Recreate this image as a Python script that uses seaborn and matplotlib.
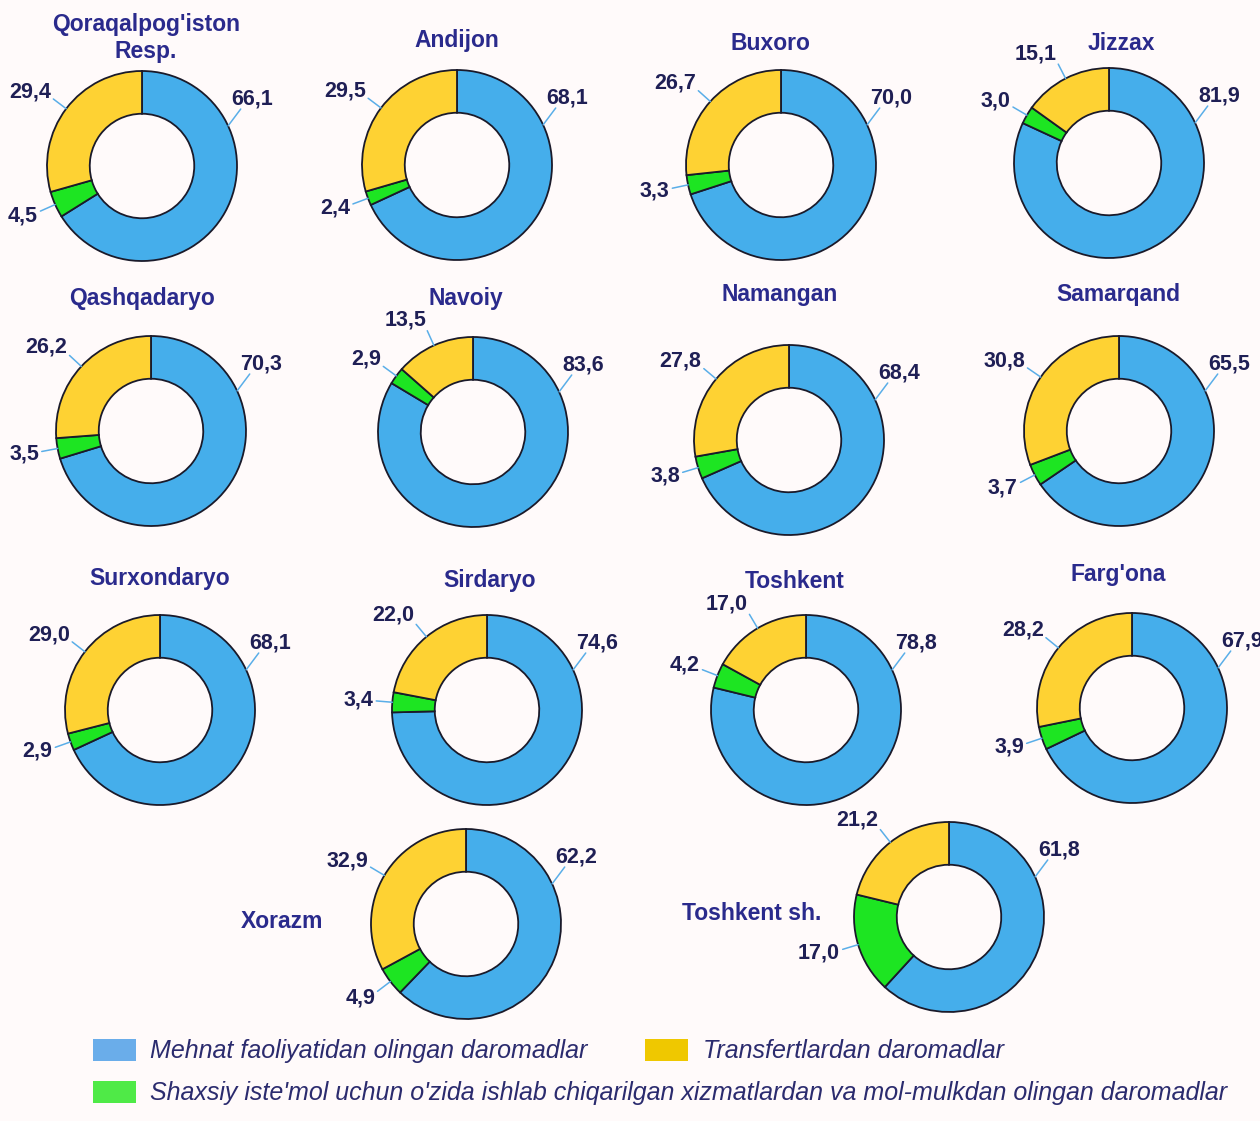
import numpy as np
import matplotlib
matplotlib.use("Agg")
import matplotlib.pyplot as plt
from matplotlib.patches import Patch
import seaborn as sns

# Region names and income shares (%)
regions = ["Qoraqalpog'iston\nResp.", "Andijon", "Buxoro", "Jizzax",
           "Qashqadaryo", "Navoiy", "Namangan", "Samarqand",
           "Surxondaryo", "Sirdaryo", "Toshkent", "Farg'ona",
           "Xorazm", "Toshkent sh."]
mehnat = [66.1, 68.1, 70.0, 81.9, 70.3, 83.6, 68.4, 65.5, 68.1, 74.6, 78.8, 67.9, 62.2, 61.8]
shaxsiy = [4.5, 2.4, 3.3, 3.0, 3.5, 2.9, 3.8, 3.7, 2.9, 3.4, 4.2, 3.9, 4.9, 17.0]
transfert = [29.4, 29.5, 26.7, 15.1, 26.2, 13.5, 27.8, 30.8, 29.0, 22.0, 17.0, 28.2, 32.9, 21.2]

legend_labels = ["Mehnat faoliyatidan olingan daromadlar",
                 "Transfertlardan daromadlar",
                 "Shaxsiy iste'mol uchun o'zida ishlab chiqarilgan xizmatlardan va mol-mulkdan olingan daromadlar"]

# layout in pixels: donut centre and title position
W, H = 1260, 1121
R = 95
centres = [(142, 166), (457, 165), (781, 165), (1109, 163),
           (151, 431), (473, 432), (789, 440), (1119, 431),
           (160, 710), (487, 710), (806, 710), (1132, 708),
           (466, 924), (949, 917)]
titles = [(146, 38), (457, 41), (770, 43), (1121, 43),
          (142, 299), (466, 299), (780, 294), (1118, 294),
          (160, 579), (490, 581), (795, 581), (1118, 574),
          (282, 922), (752, 914)]

sns.set_theme(style="white")
plt.rcParams['font.family'] = ['Liberation Sans', 'DejaVu Sans']

ring_colors = ["#45AEEB", "#1DE522", "#FED233"]
legend_colors = ["#6AADEA", "#EFC800", "#4FEA47"]
title_color = "#2A2A8C"
label_color = "#1F1F55"
line_color = "#5AAEE8"
bg = "#FFFAFA"

fig = plt.figure(figsize=(W / 100, H / 100), dpi=100, facecolor=bg)

lim = 1.7
S = 2 * lim * R
for i, name in enumerate(regions):
    cx, cy = centres[i]
    ax = fig.add_axes([(cx - S / 2) / W, 1 - (cy + S / 2) / H, S / W, S / H])
    vals = [mehnat[i], shaxsiy[i], transfert[i]]
    wedges, _ = ax.pie(vals, colors=ring_colors, startangle=90, counterclock=False,
                       radius=1, wedgeprops=dict(width=0.45, edgecolor="#1a1a2a", linewidth=1.3))
    ax.set_xlim(-lim, lim)
    ax.set_ylim(-lim, lim)
    ax.axis('off')

    for k, (w, v) in enumerate(zip(wedges, vals)):
        txt = f"{v:.1f}".replace('.', ',')
        if k == 0:
            # labour income label sits at the upper right
            a1, a2 = np.deg2rad(25), np.deg2rad(30)
            ax.plot([np.cos(a1), 1.2 * np.cos(a2)], [np.sin(a1), 1.2 * np.sin(a2)],
                    color=line_color, lw=1.1, clip_on=False)
            ax.text(1.16, 0.71, txt, ha='center', va='center', fontsize=15.5,
                    fontweight='bold', color=label_color)
            continue
        a = np.deg2rad((w.theta1 + w.theta2) / 2)
        c, s = np.cos(a), np.sin(a)
        ax.plot([c, 1.17 * c], [s, 1.17 * s], color=line_color, lw=1.1, clip_on=False)
        ha = 'right' if c < -0.1 else ('left' if c > 0.1 else 'center')
        ax.annotate(txt, xy=(1.2 * c, 1.2 * s), xytext=(0, 9 * s), textcoords='offset pixels',
                    ha=ha, va='center', fontsize=15.5, fontweight='bold', color=label_color)

    tx, ty = titles[i]
    fig.text(tx / W, 1 - ty / H, name, ha='center', va='center', fontsize=16.5,
             fontweight='bold', color=title_color, linespacing=1.2)

# legend
hs = [Patch(facecolor=c, edgecolor='none') for c in legend_colors]
leg_kw = dict(frameon=False, borderpad=0, borderaxespad=0, handlelength=1.7,
              handleheight=0.95, handletextpad=0.6, columnspacing=2.3,
              prop={'style': 'italic', 'size': 18}, labelcolor="#2B2B6E")
fig.legend(hs[:2], legend_labels[:2], ncol=2, loc='upper left',
           bbox_to_anchor=(93 / W, 1 - 1039 / H), **leg_kw)
fig.legend(hs[2:], legend_labels[2:], loc='upper left',
           bbox_to_anchor=(93 / W, 1 - 1081 / H), **leg_kw)

fig.savefig("out.png", dpi=100, facecolor=bg)
